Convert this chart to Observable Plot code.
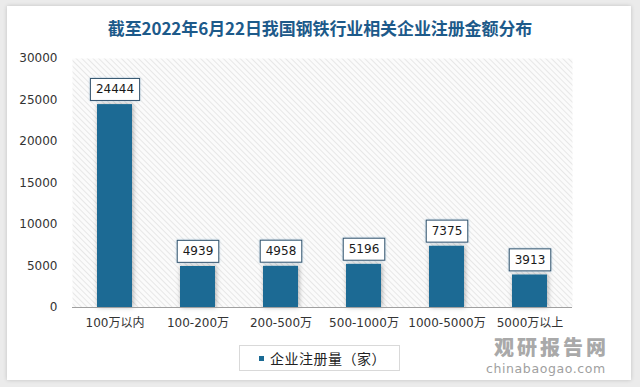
<!DOCTYPE html>
<html>
<head>
<meta charset="utf-8">
<script src="https://cdn.jsdelivr.net/npm/d3@7"></script>
<script src="https://cdn.jsdelivr.net/npm/@observablehq/plot@0.6"></script>
<style>
  html, body { margin: 0; padding: 0; }
  body { width: 640px; height: 387px; background: #ebebeb; position: relative; overflow: hidden;
         font-family: 'DejaVu Sans', 'Noto Sans CJK SC', sans-serif; }
  #card { position: absolute; left: 7px; top: 6px; width: 624px; height: 374px; background: #fff;
          box-shadow: 0 0 4px rgba(0,0,0,0.18); }
  #title { position: absolute; left: 0; top: 17px; width: 640px; text-align: center;
           font-family: 'Noto Sans CJK SC', sans-serif; font-weight: 700; font-size: 17px;
           line-height: 22px; color: #1d5a8a; letter-spacing: -0.1px; }
  #chart { position: absolute; left: 0; top: 0; }
  #legend { position: absolute; left: 239px; top: 345px; width: 159px; height: 24px;
            border: 1px solid #d9d9d9; display: flex; align-items: center; box-sizing: content-box; }
  #legend .sw { width: 5px; height: 5px; background: #1a6a94; margin-left: 19px; margin-right: 6px; }
  #legend .lb { font-family: 'Noto Sans CJK SC', sans-serif; font-size: 14px; color: #222; letter-spacing: 0.5px; }
  #wm1 { position: absolute; left: 494px; top: 332px; font-family: 'Noto Sans CJK SC', sans-serif;
         font-weight: 900; font-size: 20px; line-height: normal; color: #a9a9a9; letter-spacing: 3px; }
  #wm2 { position: absolute; left: 486px; top: 361px; font-family: 'DejaVu Sans', sans-serif;
         font-size: 12.5px; line-height: normal; color: #a0a0a0; letter-spacing: 0.6px; }
</style>
</head>
<body>
<div id="card"></div>
<div id="wm1">观研报告网</div>
<div id="wm2">chinabaogao.com</div>
<div id="chart"></div>
<div id="title">截至2022年6月22日我国钢铁行业相关企业注册金额分布</div>
<div id="legend"><div class="sw"></div><div class="lb">企业注册量（家）</div></div>
<script>
const categories = ["100万以内", "100-200万", "200-500万", "500-1000万", "1000-5000万", "5000万以上"];
const values = [24444, 4939, 4958, 5196, 7375, 3913];
const yTicks = [0, 5000, 10000, 15000, 20000, 25000, 30000];

const data = categories.map((c, i) => ({cat: c, value: values[i]}));

const chart = Plot.plot({
  width: 640,
  height: 340,
  marginLeft: 72,
  marginRight: 68,
  marginTop: 58,
  marginBottom: 33,
  style: {fontFamily: "'DejaVu Sans','Noto Sans CJK SC',sans-serif", fontSize: "12px", color: "#333", background: "transparent"},
  x: {domain: categories, paddingInner: 0.58, paddingOuter: 0.29, label: null},
  y: {domain: [0, 30000], label: null},
  marks: [
    Plot.frame({fill: "url(#hatch)", stroke: null}),
    Plot.axisY({ticks: yTicks, tickSize: 0, tickPadding: 15, label: null, tickFormat: d => String(d)}),
    Plot.axisX({tickSize: 0, tickPadding: 11, label: null}),
    Plot.barY(data, {x: "cat", y: "value", fill: "#1a6a94", className: "bars"}),
    Plot.ruleY([0], {stroke: "#a0a0a0"}),
    Plot.text(data, {x: "cat", y: "value", text: d => String(d.value), dy: -15, lineAnchor: "middle",
                     fill: "#1a1a1a", fontSize: 12, className: "labels"})
  ]
});

document.getElementById("chart").appendChild(chart);

// hatch pattern
const ns = "http://www.w3.org/2000/svg";
const defs = document.createElementNS(ns, "defs");
defs.innerHTML = `
  <pattern id="hatch" width="4" height="4" patternUnits="userSpaceOnUse" patternTransform="rotate(-45)">
    <rect width="4" height="4" fill="#fbfbfb"/>
    <line x1="0" y1="0" x2="0" y2="4" stroke="#dfdfdf" stroke-width="1.4"/>
  </pattern>
  <filter id="shadow" x="-30%" y="-10%" width="160%" height="120%">
    <feDropShadow dx="1" dy="0" stdDeviation="2.4" flood-color="#000" flood-opacity="0.32"/>
  </filter>
  <filter id="shadow2" x="-20%" y="-30%" width="140%" height="160%">
    <feDropShadow dx="0" dy="0" stdDeviation="1.2" flood-color="#6a9cc0" flood-opacity="0.5"/>
  </filter>`;
chart.insertBefore(defs, chart.firstChild);

const bars = chart.querySelector("g.bars");
if (bars) bars.setAttribute("filter", "url(#shadow)");

// label boxes
const lg = chart.querySelector("g.labels");
if (lg) {
  lg.querySelectorAll("text").forEach(t => {
    const bb = t.getBBox();
    const r = document.createElementNS(ns, "rect");
    const cy = bb.y + bb.height / 2;
    r.setAttribute("x", bb.x - 5.5);
    r.setAttribute("y", cy - 11);
    r.setAttribute("width", bb.width + 11);
    r.setAttribute("height", 22);
    r.setAttribute("fill", "#fff");
    r.setAttribute("stroke", "#34546e");
    r.setAttribute("stroke-width", 1);
    r.setAttribute("filter", "url(#shadow2)");
    if (t.getAttribute("transform")) r.setAttribute("transform", t.getAttribute("transform"));
    t.parentNode.insertBefore(r, t);
  });
}
</script>
</body>
</html>
